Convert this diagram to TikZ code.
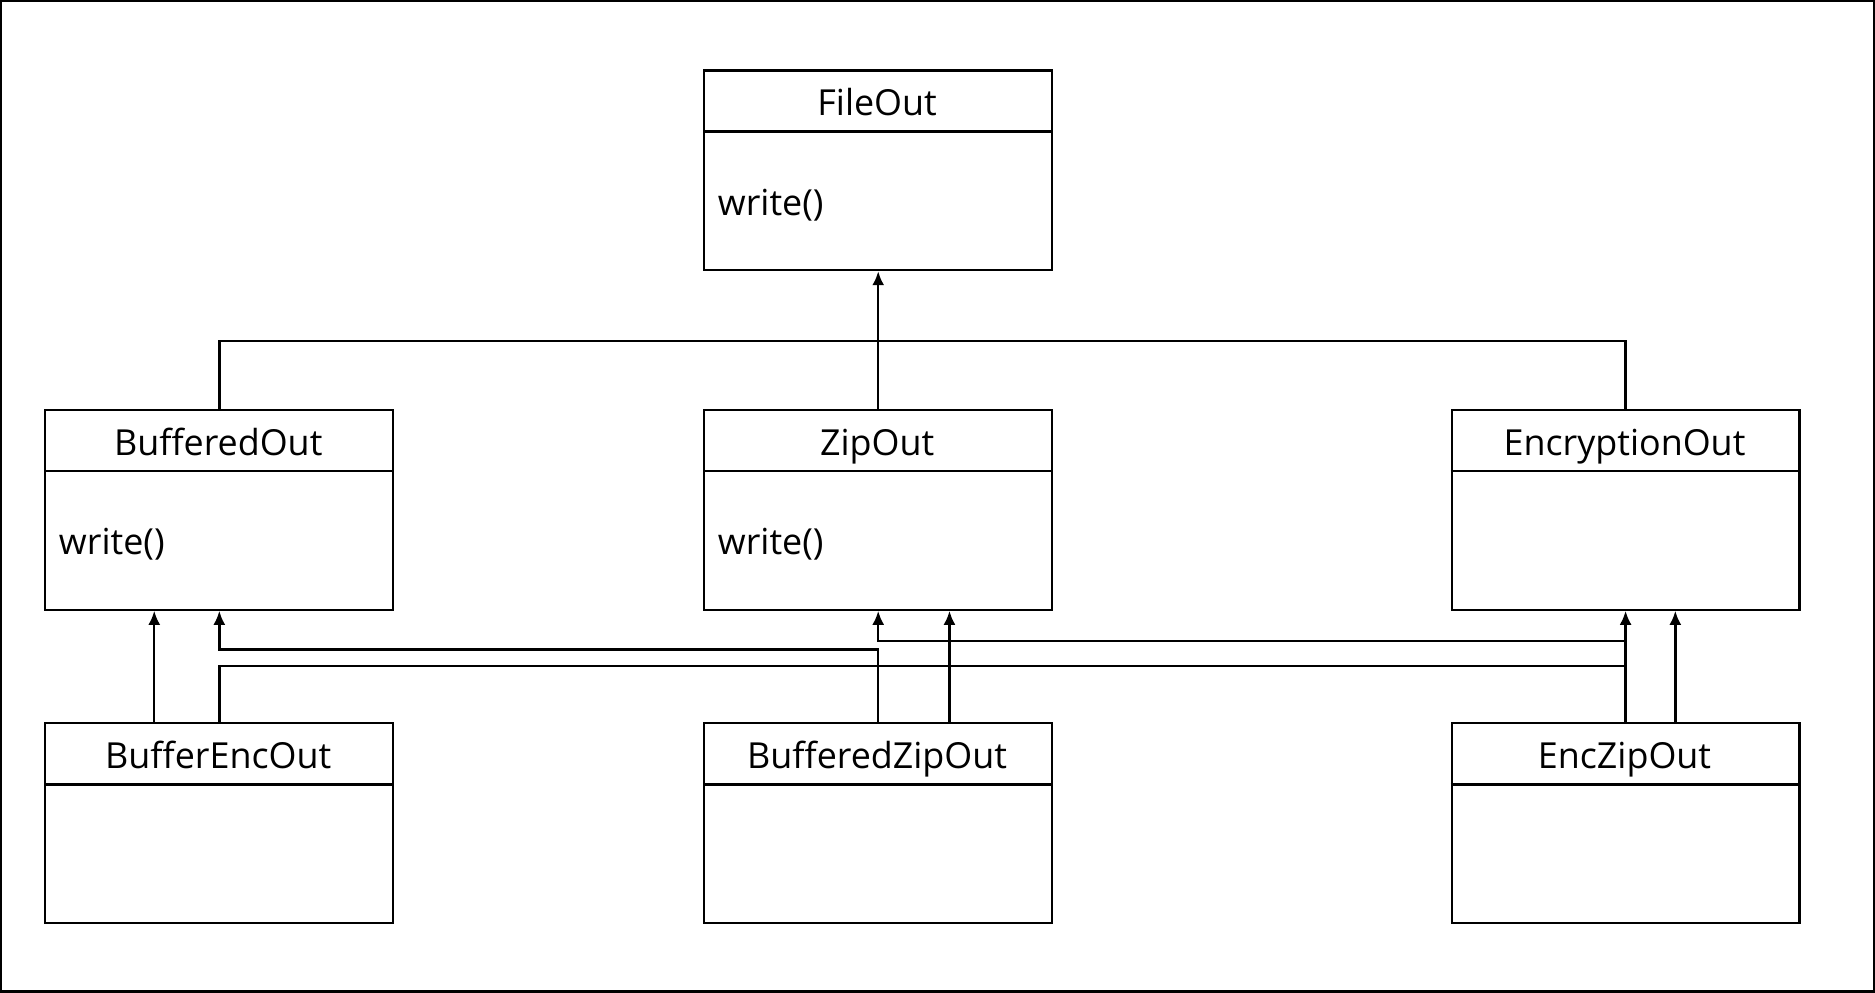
\documentclass[tikz,border=0pt]{standalone}
\usepackage{fontspec}
\setmainfont{Open Sans}
\usetikzlibrary{arrows.meta}
\tikzset{
  classbox/.style={draw, line width=1.1pt, minimum width=174.6pt, minimum height=100.2pt, inner sep=0pt, anchor=north west},
  titletext/.style={font=\fontsize{18}{21}\selectfont, inner sep=0pt, anchor=base},
  bodytext/.style={font=\fontsize{18}{21}\selectfont, inner sep=0pt, anchor=base west},
  conn/.style={draw, line width=1.2pt},
  inh/.style={conn, -{Latex[length=7pt,width=6pt]}}
}
\newcommand\umlclass[5]{%
  \node[classbox] (#1) at (#2,#3) {};
  \draw[line width=1.1pt] ({#2},{#3+52}) -- ({#2+291},{#3+52});
  \node[titletext] (#1-title) at ({#2+145.5},{#3+39}) {#4};
  \node[bodytext] (#1-body) at ({#2+12},{#3+122}) {#5};
}
\begin{document}
\begin{tikzpicture}[x=0.6pt, y=-0.6pt]
\useasboundingbox (0,0) rectangle (1568,830);
\draw[line width=1.1pt] (0.9,0.9) rectangle (1567.1,829.1);

\umlclass{FileOut}{588}{58}{FileOut}{write()}
\umlclass{BufferedOut}{37}{342}{BufferedOut}{write()}
\umlclass{ZipOut}{588}{342}{ZipOut}{write()}
\umlclass{EncryptionOut}{1213}{342}{EncryptionOut}{}
\umlclass{BufferEncOut}{37}{604}{BufferEncOut}{}
\umlclass{BufferedZipOut}{588}{604}{BufferedZipOut}{}
\umlclass{EncZipOut}{1213}{604}{EncZipOut}{}

% inheritance to FileOut
\draw[conn] (BufferedOut.north) |- (EncryptionOut.north |- 0,285) -- (EncryptionOut.north);
\draw[inh] (ZipOut.north) -- (FileOut.south);

% lower level
\draw[inh] (129,0 |- BufferEncOut.north) -- (129,0 |- BufferedOut.south);
\draw[inh] (BufferEncOut.north) -- (BufferEncOut.north |- 0,557) -| (EncryptionOut.south);
\draw[inh] (BufferedZipOut.north) -- (BufferedZipOut.north |- 0,543) -| (BufferedOut.south);
\draw[inh] (794,0 |- BufferedZipOut.north) -- (794,0 |- ZipOut.south);
\draw[inh] (EncZipOut.north) -- (EncZipOut.north |- 0,536) -| (ZipOut.south);
\draw[inh] (1401,0 |- EncZipOut.north) -- (1401,0 |- EncryptionOut.south);
\end{tikzpicture}
\end{document}
